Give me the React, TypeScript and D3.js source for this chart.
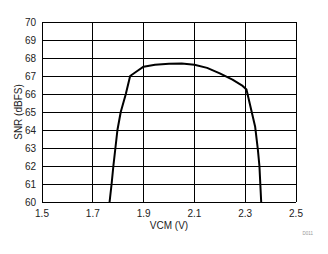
import React from "react";
import * as d3 from "d3";

const vcm = [1.766, 1.774, 1.781, 1.789, 1.797, 1.81, 1.83, 1.847, 1.875, 1.9, 1.945, 2.0, 2.05, 2.1, 2.15, 2.2, 2.25, 2.29, 2.305, 2.339, 2.35, 2.356, 2.363];
const snr = [60, 61, 62, 63, 64, 65, 66, 67.0, 67.28, 67.52, 67.63, 67.68, 67.7, 67.62, 67.45, 67.15, 66.8, 66.45, 66.25, 64.2, 62.9, 62.0, 60];
const xTicks = [1.5, 1.7, 1.9, 2.1, 2.3, 2.5];
const yTicks = [60, 61, 62, 63, 64, 65, 66, 67, 68, 69, 70];

export default function App() {
  const W = 328, H = 254;
  const left = 42, right = 296, top = 22, bottom = 202;
  const x = d3.scaleLinear().domain([1.5, 2.5]).range([left, right]);
  const y = d3.scaleLinear().domain([60, 70]).range([bottom, top]);
  const line = d3.line<number>().x((_, i) => x(vcm[i])).y((d) => y(d));
  const font = "'Liberation Sans', Arial, sans-serif";
  return (
    <svg width={W} height={H} style={{ position: "absolute", left: 0, top: 0 }} fontFamily={font}>
      <rect x={0} y={0} width={W} height={H} fill="#fff" />
      {xTicks.map((t) => (
        <line key={"gx" + t} x1={x(t)} x2={x(t)} y1={top} y2={bottom} stroke="#000" strokeWidth={1} shapeRendering="crispEdges" />
      ))}
      {yTicks.map((t) => (
        <line key={"gy" + t} x1={left} x2={right} y1={y(t)} y2={y(t)} stroke="#000" strokeWidth={1} shapeRendering="crispEdges" />
      ))}
      <clipPath id="clp">
        <rect x={left} y={top} width={right - left} height={bottom - top} />
      </clipPath>
      <path d={line(snr) || ""} fill="none" stroke="#000" strokeWidth={2} clipPath="url(#clp)" strokeLinejoin="round" />
      {yTicks.map((t) => (
        <text key={"ty" + t} x={left - 6} y={y(t) + 3.5} fontSize={10} textAnchor="end" fill="#222">
          {t}
        </text>
      ))}
      {xTicks.map((t) => (
        <text key={"tx" + t} x={x(t)} y={217} fontSize={10} textAnchor="middle" fill="#222">
          {t.toFixed(1)}
        </text>
      ))}
      <text x={(left + right) / 2} y={229} fontSize={10} textAnchor="middle" fill="#222">
        VCM (V)
      </text>
      <text transform={`translate(22,${(top + bottom) / 2}) rotate(-90)`} fontSize={10} textAnchor="middle" fill="#222">
        SNR (dBFS)
      </text>
      <text x={313} y={234.5} fontSize={4.5} textAnchor="end" fill="#999">
        D011
      </text>
    </svg>
  );
}
